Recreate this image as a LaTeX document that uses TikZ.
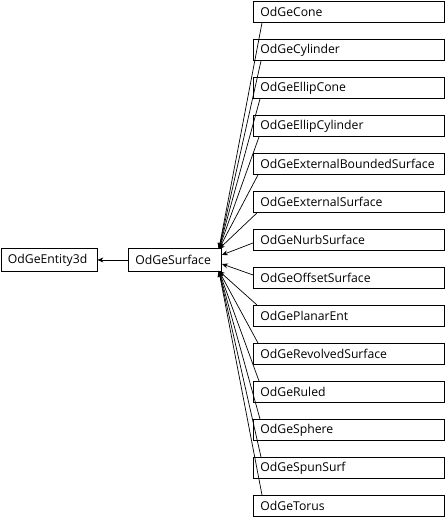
\documentclass[tikz,border=0pt]{standalone}
\usepackage{fontspec}
\setmainfont{Open Sans}
\usetikzlibrary{arrows.meta,calc}
\begin{document}
\begin{tikzpicture}[x=1pt,y=-1pt,
  cls/.style={draw=black,line width=0.9pt,fill=white,anchor=north west,font=\fontsize{12.2}{14}\selectfont,
    inner xsep=7pt,inner ysep=0pt,minimum height=21pt,align=left},
  rcls/.style={cls,text width=177pt},
  inh/.style={draw=black,line width=0.7pt,-{Stealth[length=6pt,width=5pt]}}]
\useasboundingbox (0,0) rectangle (446,517);
\node[cls,text width=82pt,minimum height=23pt] (ent) at (0.5,248) {OdGeEntity3d};
\node[cls,text width=79pt,minimum height=23pt] (surf) at (128,248) {OdGeSurface};
\foreach \n/\t [count=\i from 0] in {cone/OdGeCone,cyl/OdGeCylinder,econe/OdGeEllipCone,ecyl/OdGeEllipCylinder,
  extb/OdGeExternalBoundedSurface,ext/OdGeExternalSurface,nurb/OdGeNurbSurface,off/OdGeOffsetSurface,
  plan/OdGePlanarEnt,rev/OdGeRevolvedSurface,ruled/OdGeRuled,sph/OdGeSphere,spun/OdGeSpunSurf,tor/OdGeTorus}{
  \node[rcls] (\n) at (253,{38*\i+1}) {\t};
}
\draw[inh] (surf) -- (ent);
\foreach \n/\dx in {cone/5,cyl/4,econe/3,ecyl/2,extb/1,ext/0}{
  \draw[inh] ($(\n.south west)+(\dx+4,0)$) -- ($(surf.north east)+(-3,1)$);
}
\draw[inh] ($(nurb.west)+(0,3)$) -- ($(surf.east)+(0,-5)$);
\draw[inh] ($(off.west)+(0,-3)$) -- ($(surf.east)+(0,4)$);
\foreach \n/\dx in {plan/0,rev/1,ruled/2,sph/3,spun/4,tor/5}{
  \draw[inh] ($(\n.north west)+(\dx+4,0)$) -- ($(surf.south east)+(-3,-1)$);
}
\end{tikzpicture}
\end{document}
